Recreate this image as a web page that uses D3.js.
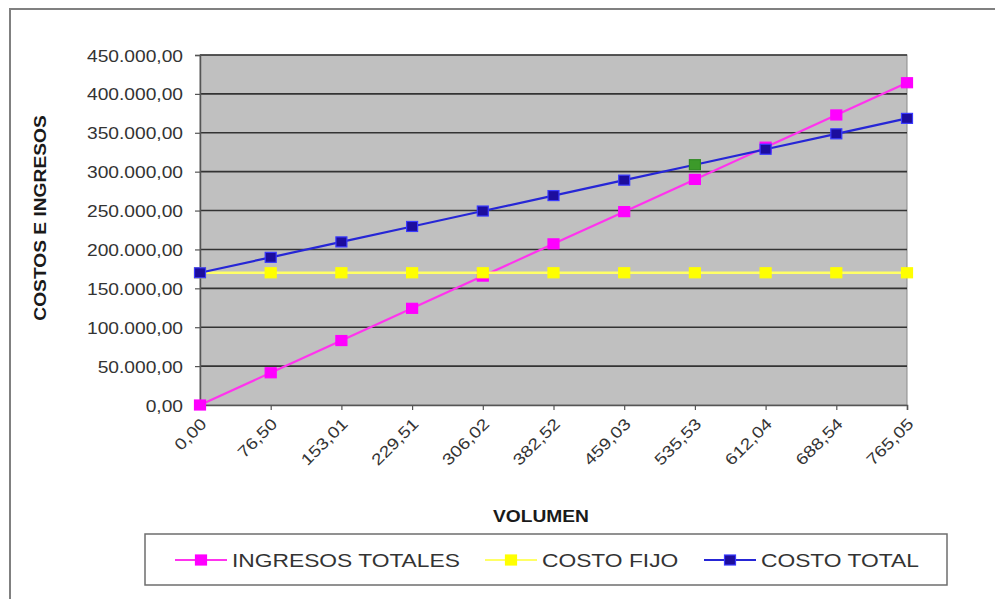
<!DOCTYPE html>
<html>
<head>
<meta charset="utf-8">
<script src="https://cdn.jsdelivr.net/npm/d3@7"></script>
<style>
  html, body { margin: 0; padding: 0; background: #ffffff; }
  svg { display: block; font-family: "Liberation Sans", Arial, sans-serif; }
</style>
</head>
<body>
<svg id="chart" width="995" height="599"></svg>
<script>
// Punto de equilibrio: volumen vs. costos e ingresos
const volumen = ["0,00", "76,50", "153,01", "229,51", "306,02", "382,52",
                 "459,03", "535,53", "612,04", "688,54", "765,05"];
const ingresosTotales = [0, 41430, 82870, 124300, 165740, 207170,
                         248610, 290040, 331480, 372910, 414350];
const costoFijo = [170000, 170000, 170000, 170000, 170000, 170000,
                   170000, 170000, 170000, 170000, 170000];
const costoTotal = [170000, 189850, 209700, 229550, 249400, 269250,
                    289100, 308950, 328800, 348650, 368500];
const yTicks = [0, 50000, 100000, 150000, 200000, 250000, 300000, 350000, 400000, 450000];
const puntoResaltado = 7; // marcador destacado en COSTO TOTAL

const seriesNames = ["INGRESOS TOTALES", "COSTO FIJO", "COSTO TOTAL"];

const svg = d3.select("#chart");
const SX = 1.2; // ensanchado horizontal del texto

const plot = { left: 200, right: 907, top: 55, bottom: 405 };

const x = d3.scalePoint().domain(volumen).range([plot.left, plot.right]);
const y = d3.scaleLinear().domain([0, 450000]).range([plot.bottom, plot.top]);

const locale = d3.formatLocale({ decimal: ",", thousands: ".", grouping: [3], currency: ["", ""] });
const fmt = locale.format(",.2f");

// marco exterior
svg.append("rect")
  .attr("x", 10).attr("y", 9).attr("width", 1000).attr("height", 700)
  .attr("fill", "#ffffff").attr("stroke", "#808080").attr("stroke-width", 2);

// área de trazado
svg.append("rect")
  .attr("x", plot.left).attr("y", plot.top)
  .attr("width", plot.right - plot.left).attr("height", plot.bottom - plot.top)
  .attr("fill", "#c0c0c0").attr("stroke", "#8a8a8a").attr("stroke-width", 1);

// líneas de división
svg.append("g").selectAll("line").data(yTicks.filter(d => d > 0)).join("line")
  .attr("x1", plot.left).attr("x2", plot.right)
  .attr("y1", d => y(d)).attr("y2", d => y(d))
  .attr("stroke", "#333333").attr("stroke-width", 1.6);

// eje Y
const yAxis = svg.append("g")
  .attr("transform", `translate(${plot.left},0)`)
  .call(d3.axisLeft(y).tickValues(yTicks).tickSize(5).tickFormat(fmt));
yAxis.select(".domain").attr("stroke", "#555").attr("stroke-width", 1.5);
yAxis.selectAll(".tick line").attr("stroke", "#555").attr("stroke-width", 1.2);
yAxis.selectAll(".tick text")
  .attr("x", -17 / SX).attr("dy", null).attr("y", 6)
  .attr("transform", `scale(${SX},1)`)
  .attr("fill", "#333333").attr("font-size", 16)
  .attr("font-family", "'Liberation Sans', Arial, sans-serif");

// eje X
const xAxis = svg.append("g")
  .attr("transform", `translate(0,${plot.bottom})`)
  .call(d3.axisBottom(x).tickSize(5));
xAxis.select(".domain").attr("stroke", "#555").attr("stroke-width", 1.5);
xAxis.selectAll(".tick line").attr("stroke", "#555").attr("stroke-width", 1.2);
xAxis.selectAll(".tick text")
  .attr("x", 0).attr("y", 0).attr("dy", null)
  .attr("text-anchor", "end")
  .attr("transform", `translate(7,20) rotate(-45) scale(${SX},1)`)
  .attr("fill", "#333333").attr("font-size", 16)
  .attr("font-family", "'Liberation Sans', Arial, sans-serif");

// títulos de los ejes
svg.append("g").attr("transform", "translate(46,218) rotate(-90)")
  .append("text").attr("transform", `scale(${SX},1)`)
  .attr("text-anchor", "middle").attr("font-weight", "bold").attr("font-size", 16)
  .attr("fill", "#1a1a1a").text("COSTOS E INGRESOS");

svg.append("g").attr("transform", "translate(541,522)")
  .append("text").attr("transform", `scale(${SX},1)`)
  .attr("text-anchor", "middle").attr("font-weight", "bold").attr("font-size", 16)
  .attr("fill", "#1a1a1a").text("VOLUMEN");

// series
const series = [
  { name: seriesNames[0], values: ingresosTotales, line: "#ff33ee", fill: "#ff00ff", stroke: "#ff00ff", w: 2.2 },
  { name: seriesNames[1], values: costoFijo, line: "#ffff66", fill: "#ffff00", stroke: "#ffff00", w: 2.6 },
  { name: seriesNames[2], values: costoTotal, line: "#2626d6", fill: "#1c0d9e", stroke: "#3a3aff", w: 2.2 }
];

const lineGen = d3.line().x((d, i) => x(volumen[i])).y(d => y(d));

const mw = 11, mh = 10;
series.forEach(s => {
  const g = svg.append("g");
  g.append("path").datum(s.values)
    .attr("d", lineGen).attr("fill", "none")
    .attr("stroke", s.line).attr("stroke-width", s.w);
  g.selectAll("rect").data(s.values).join("rect")
    .attr("x", (d, i) => x(volumen[i]) - mw / 2)
    .attr("y", d => y(d) - mh / 2)
    .attr("width", mw).attr("height", mh)
    .attr("fill", (d, i) => (s.name === "COSTO TOTAL" && i === puntoResaltado) ? "#3c9a2a" : s.fill)
    .attr("stroke", (d, i) => (s.name === "COSTO TOTAL" && i === puntoResaltado) ? "#2f8a22" : s.stroke)
    .attr("stroke-width", 1.2);
});

// leyenda
const legend = svg.append("g");
legend.append("rect")
  .attr("x", 145).attr("y", 534).attr("width", 802).attr("height", 51)
  .attr("fill", "#ffffff").attr("stroke", "#6e6e6e").attr("stroke-width", 1.5);

const legendX = [175, 485, 704];
series.forEach((s, i) => {
  const g = legend.append("g").attr("transform", `translate(${legendX[i]},560)`);
  g.append("line").attr("x1", 0).attr("x2", 52).attr("y1", 0).attr("y2", 0)
    .attr("stroke", s.line).attr("stroke-width", 2.2);
  g.append("rect").attr("x", 26 - mw / 2).attr("y", -mh / 2)
    .attr("width", mw).attr("height", mh)
    .attr("fill", s.fill).attr("stroke", s.stroke).attr("stroke-width", 1.2);
  g.append("g").attr("transform", "translate(57,6.5)")
    .append("text").attr("transform", `scale(${SX},1)`)
    .attr("font-size", 19).attr("fill", "#333333").text(s.name);
});
</script>
</body>
</html>
